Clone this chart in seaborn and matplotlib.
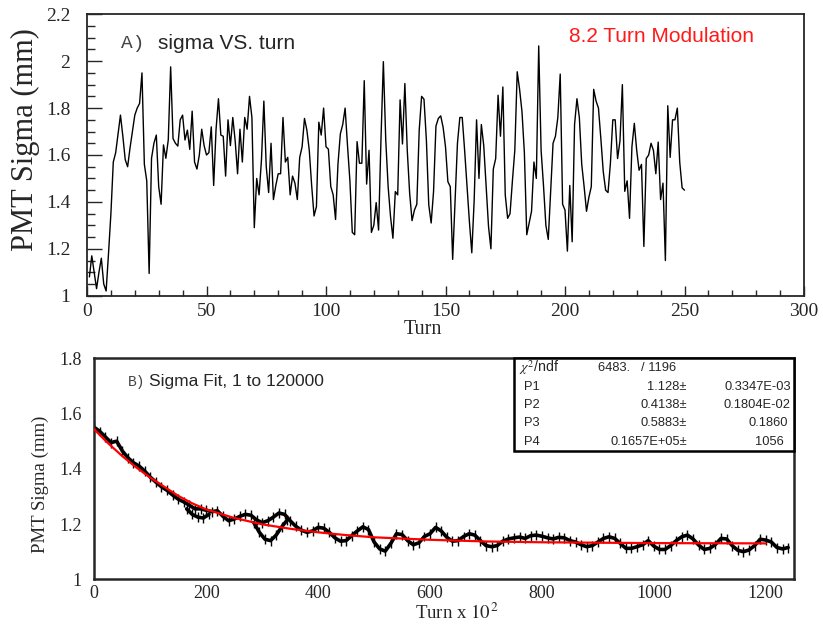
import numpy as np
import pandas as pd
import matplotlib
matplotlib.use("Agg")
import matplotlib.pyplot as plt
from matplotlib.ticker import MultipleLocator, FuncFormatter
from matplotlib.patches import Rectangle
import seaborn as sns

# --- panel A: sigma vs turn (turn 1..250)
turn = list(range(1, 251))
sigma_turn = [
    1.08, 1.17, 1.10, 1.03, 1.10, 1.16, 1.05, 1.02, 1.18, 1.35,
    1.57, 1.61, 1.69, 1.77, 1.68, 1.58, 1.55, 1.63, 1.70, 1.77,
    1.80, 1.82, 1.95, 1.56, 1.49, 1.095, 1.586, 1.65, 1.685, 1.465,
    1.39, 1.643, 1.586, 1.664, 1.976, 1.67, 1.65, 1.638, 1.75, 1.77,
    1.664, 1.706, 1.624, 1.787, 1.57, 1.54, 1.60, 1.71, 1.64, 1.60,
    1.61, 1.72, 1.47, 1.71, 1.84, 1.685, 1.68, 1.51, 1.75, 1.64,
    1.76, 1.66, 1.52, 1.71, 1.57, 1.76, 1.71, 1.85, 1.76, 1.29,
    1.50, 1.43, 1.58, 1.83, 1.55, 1.44, 1.65, 1.41, 1.47, 1.52,
    1.52, 1.76, 1.57, 1.59, 1.43, 1.51, 1.48, 1.41, 1.59, 1.635,
    1.756, 1.706, 1.62, 1.47, 1.34, 1.38, 1.74, 1.685, 1.80, 1.635,
    1.625, 1.465, 1.43, 1.325, 1.56, 1.69, 1.73, 1.80, 1.64, 1.49,
    1.27, 1.26, 1.657, 1.565, 1.565, 1.917, 1.476, 1.62, 1.27, 1.30,
    1.397, 1.28, 1.667, 1.998, 1.664, 1.465, 1.337, 1.245, 1.444, 1.43,
    1.835, 1.647, 1.905, 1.62, 1.437, 1.32, 1.365, 1.39, 1.706, 1.85,
    1.838, 1.664, 1.387, 1.31, 1.444, 1.723, 1.756, 1.767, 1.718, 1.635,
    1.486, 1.465, 1.155, 1.408, 1.65, 1.76, 1.76, 1.62, 1.47, 1.316,
    1.183, 1.408, 1.75, 1.50, 1.73, 1.64, 1.465, 1.295, 1.20, 1.54,
    1.585, 1.855, 1.68, 1.89, 1.43, 1.33, 1.35, 1.49, 1.62, 1.955,
    1.88, 1.785, 1.61, 1.26, 1.31, 1.36, 1.57, 1.50, 2.065, 1.62,
    1.47, 1.30, 1.24, 1.445, 1.65, 1.68, 1.76, 1.945, 1.39, 1.365,
    1.19, 1.47, 1.23, 1.73, 1.84, 1.76, 1.56, 1.465, 1.36, 1.42,
    1.465, 1.88, 1.83, 1.80, 1.67, 1.53, 1.45, 1.44, 1.565, 1.75,
    1.75, 1.585, 1.66, 1.90, 1.445, 1.49, 1.33, 1.635, 1.735, 1.62,
    1.535, 1.56, 1.21, 1.585, 1.60, 1.65, 1.62, 1.52, 1.655, 1.41,
    1.48, 1.15, 1.81, 1.59, 1.75, 1.75, 1.80, 1.57, 1.46, 1.45,
]

# --- panel B: sigma vs turn x 100 (read every 10 units)
turn100 = list(range(0, 1250, 10))
sigma_fit_data = [
    1.550, 1.535, 1.515, 1.495, 1.500, 1.465, 1.440, 1.422, 1.410, 1.392,
    1.370, 1.352, 1.335, 1.322, 1.305, 1.290, 1.280, 1.268, 1.255, 1.255,
    1.250, 1.245, 1.248, 1.228, 1.212, 1.218, 1.228, 1.235, 1.232, 1.215,
    1.205, 1.212, 1.225, 1.240, 1.235, 1.212, 1.192, 1.178, 1.170, 1.175,
    1.188, 1.185, 1.170, 1.150, 1.138, 1.140, 1.158, 1.175, 1.190, 1.180,
    1.135, 1.110, 1.102, 1.130, 1.165, 1.162, 1.140, 1.125, 1.132, 1.155,
    1.165, 1.188, 1.175, 1.152, 1.138, 1.140, 1.155, 1.165, 1.160, 1.140,
    1.122, 1.118, 1.122, 1.138, 1.146, 1.150, 1.153, 1.148, 1.158, 1.160,
    1.156, 1.150, 1.146, 1.152, 1.150, 1.140, 1.135, 1.125, 1.118, 1.122,
    1.135, 1.148, 1.154, 1.148, 1.130, 1.112, 1.112, 1.118, 1.125, 1.140,
    1.120, 1.108, 1.108, 1.122, 1.140, 1.154, 1.160, 1.146, 1.124, 1.108,
    1.112, 1.126, 1.148, 1.146, 1.122, 1.105, 1.100, 1.106, 1.122, 1.145,
    1.142, 1.135, 1.115, 1.110, 1.115,
]
# lower traces visible around 180 and 310
turn100_b1 = [165, 175, 185, 195, 205]
sigma_fit_data_b1 = [1.255, 1.235, 1.225, 1.222, 1.235]
turn100_b2 = [285, 295, 305, 315, 325, 335, 345]
sigma_fit_data_b2 = [1.205, 1.17, 1.145, 1.14, 1.16, 1.19, 1.215]

# fitted curve (red)
fit_x = [0, 10, 25, 50, 75, 100, 125, 150, 175, 200, 250, 300, 350, 400,
         450, 500, 600, 700, 800, 1000, 1200]
fit_y = [1.543, 1.522, 1.492, 1.446, 1.405, 1.368, 1.335, 1.302, 1.275, 1.253,
         1.222, 1.199, 1.183, 1.170, 1.160, 1.152, 1.143, 1.137, 1.134, 1.131,
         1.130]

chi2_text = "6483.   / 1196"
param_names = ["P1", "P2", "P3", "P4"]
param_vals = ["1.128", "0.4138", "0.5883", "0.1657E+05"]
param_errs = ["0.3347E-03", "0.1804E-02", "0.1860", "1056"]

sns.set_style("white")
plt.rcParams["font.family"] = ["Liberation Serif", "DejaVu Serif"]
plt.rcParams["mathtext.fontset"] = "stix"

W, H = 823, 633
fig = plt.figure(figsize=(W / 100, H / 100), dpi=100)
fig.patch.set_facecolor("white")


def rect(l, t, r, b):
    return [l / W, 1 - b / H, (r - l) / W, (b - t) / H]


ax1 = fig.add_axes(rect(87, 14.3, 804, 295.7))
ax2 = fig.add_axes(rect(94.3, 358.3, 794.3, 579.3))

fmt = FuncFormatter(lambda v, p: f"{round(v, 2):g}")

# ---- top panel
df_a = pd.DataFrame({"turn": turn, "sigma": sigma_turn})
sns.lineplot(data=df_a, x="turn", y="sigma", ax=ax1, color="black", lw=1.0)
ax1.set_xlim(0, 300)
ax1.set_ylim(1, 2.2)
ax1.xaxis.set_major_locator(MultipleLocator(50))
ax1.xaxis.set_minor_locator(MultipleLocator(10))
ax1.yaxis.set_major_locator(MultipleLocator(0.2))
ax1.yaxis.set_minor_locator(MultipleLocator(0.05))
ax1.yaxis.set_major_formatter(fmt)
ax1.tick_params(axis="y", which="major", direction="in", length=11, width=1,
                labelsize=14, pad=12, right=False, left=True)
ax1.tick_params(axis="y", which="minor", direction="in", length=5.5, width=1,
                right=False, left=True)
ax1.tick_params(axis="x", which="major", direction="in", length=7.5, width=1,
                labelsize=14, pad=5, top=False, bottom=True)
ax1.tick_params(axis="x", which="minor", direction="in", length=4, width=1,
                top=False, bottom=True)
for s in ax1.spines.values():
    s.set_linewidth(1.3)
ax1.set_xlabel("Turn", fontsize=14.5)
ax1.set_ylabel("PMT Sigma (mm)", fontsize=22)
ax1.xaxis.set_label_coords(0.469, -0.085)
ax1.yaxis.set_label_coords(-0.066, 0.555)

ax1.text(0.047, 0.895, "A)", transform=ax1.transAxes, fontsize=14,
         family="Liberation Mono", color="#444444", va="center")
ax1.text(0.099, 0.895, "sigma VS. turn", transform=ax1.transAxes,
         fontsize=15, family="Liberation Sans", va="center")
ax1.text(0.801, 0.92, "8.2 Turn Modulation", transform=ax1.transAxes,
         fontsize=15, family="Liberation Sans", color="#ff1a1a",
         ha="center", va="center")

# ---- bottom panel
for xs, ys in [(turn100, sigma_fit_data), (turn100_b1, sigma_fit_data_b1),
               (turn100_b2, sigma_fit_data_b2)]:
    ax2.errorbar(xs, ys, yerr=0.018, fmt="none", ecolor="black",
                 elinewidth=1.0, zorder=2)
    sns.lineplot(x=xs, y=ys, ax=ax2, color="black", lw=2.6, zorder=2)
df_fit = pd.DataFrame({"t": fit_x, "s": fit_y})
sns.lineplot(data=df_fit, x="t", y="s", ax=ax2, color="#ff0000", lw=1.6,
             zorder=3)
ax2.set_xlim(0, 1251)
ax2.set_ylim(1, 1.8)
ax2.xaxis.set_major_locator(MultipleLocator(200))
ax2.xaxis.set_minor_locator(MultipleLocator(50))
ax2.yaxis.set_major_locator(MultipleLocator(0.2))
ax2.yaxis.set_minor_locator(MultipleLocator(0.05))
ax2.yaxis.set_major_formatter(fmt)
ax2.tick_params(axis="both", which="major", direction="in", length=10,
                width=1.4, labelsize=13, top=False, right=False)
ax2.tick_params(axis="y", which="major", pad=9)
ax2.tick_params(axis="x", which="major", pad=4)
ax2.tick_params(axis="both", which="minor", direction="in", length=5,
                width=1.2, top=False, right=False)
for s in ax2.spines.values():
    s.set_linewidth(1.8)
ax2.set_xlabel(r"Turn x $10^{\,2}$", fontsize=13.5)
ax2.set_ylabel("PMT Sigma (mm)", fontsize=13.5)
ax2.xaxis.set_label_coords(0.518, -0.105)
ax2.yaxis.set_label_coords(-0.064, 0.43)

ax2.text(0.048, 0.893, "B)", transform=ax2.transAxes, fontsize=10.5,
         family="Liberation Mono", color="#444444", va="center")
ax2.text(0.078, 0.893, "Sigma Fit, 1 to 120000", transform=ax2.transAxes,
         fontsize=12.5, family="Liberation Sans", va="center")

# stats box
def axc(px, py):
    return (px - 94.3) / 700.0, (579.3 - py) / 221.0


bx0, by0 = axc(514.3, 451)
ax2.add_patch(Rectangle((bx0, by0), 1 - bx0, 1 - by0, transform=ax2.transAxes,
                        facecolor="white", edgecolor="black", lw=1.8,
                        zorder=5, clip_on=False))
rows_y = [368, 387, 405, 423, 442]
fs = 9.3
x0, y0 = axc(519, rows_y[0])
ax2.text(x0, y0, r"$\chi^2$/ndf", transform=ax2.transAxes, fontsize=fs + 1,
         family="Liberation Sans", va="center", zorder=6)
x0, y0 = axc(598, rows_y[0])
ax2.text(x0, y0, chi2_text, transform=ax2.transAxes, fontsize=fs,
         family="Liberation Sans", va="center", zorder=6)
err_right = [791, 791, 788, 784]
for i, name in enumerate(param_names):
    ry = rows_y[i + 1]
    x0, y0 = axc(524, ry)
    ax2.text(x0, y0, name, transform=ax2.transAxes, fontsize=fs,
             family="Liberation Sans", va="center", zorder=6)
    x0, y0 = axc(687, ry)
    ax2.text(x0, y0, param_vals[i] + "\u00b1", transform=ax2.transAxes,
             fontsize=fs, family="Liberation Sans", va="center", ha="right",
             zorder=6)
    x0, y0 = axc(err_right[i], ry)
    ax2.text(x0, y0, param_errs[i], transform=ax2.transAxes, fontsize=fs,
             family="Liberation Sans", va="center", ha="right", zorder=6)

fig.savefig("out.png", dpi=100)
